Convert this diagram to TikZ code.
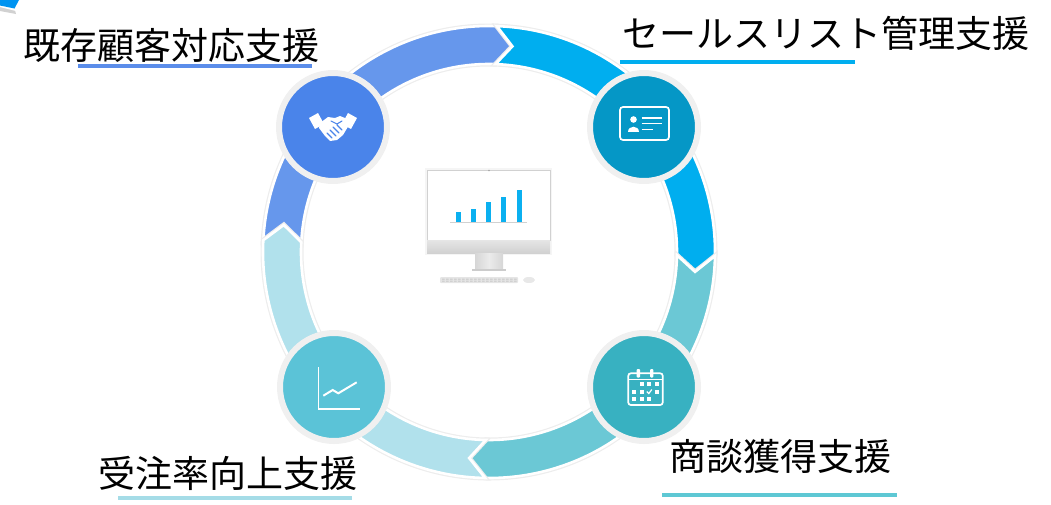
\documentclass[tikz,border=0pt]{standalone}
\usepackage{fontspec}
\newfontfamily\jpfont{Noto Sans CJK JP}
\usetikzlibrary{calc}

% segment and hub colours
\definecolor{segA}{HTML}{6697EC}
\definecolor{hubA}{HTML}{4A84EA}
\definecolor{segB}{HTML}{00AEEF}
\definecolor{hubB}{HTML}{0597C6}
\definecolor{segC}{HTML}{6BC8D5}
\definecolor{hubC}{HTML}{38B1C1}
\definecolor{segD}{HTML}{B1E1EC}
\definecolor{hubD}{HTML}{5BC3D7}
\definecolor{ulA}{HTML}{5B8DEA}
\definecolor{ulB}{HTML}{00AEEF}
\definecolor{ulC}{HTML}{5EC8D4}
\definecolor{ulD}{HTML}{A5DCE7}
\definecolor{barc}{HTML}{0BB0F0}

% ring geometry
\def\Ro{226pt}
\def\Ri{188pt}
\def\Rm{207pt}
\def\dd{4.5}

% one arrow segment of the ring: start angle, end angle, colour
\newcommand\ringseg[3]{%
  \path[halo] ($(C)+(#1:\Ro)$) arc[start angle=#1, end angle=#2, radius=\Ro]
    -- ($(C)+({#2-\dd}:\Rm)$) -- ($(C)+(#2:\Ri)$)
    arc[start angle=#2, end angle=#1, radius=\Ri]
    -- ($(C)+({#1-\dd}:\Rm)$) -- cycle;
  \path[segment=#3] ($(C)+(#1:\Ro)$) arc[start angle=#1, end angle=#2, radius=\Ro]
    -- ($(C)+({#2-\dd}:\Rm)$) -- ($(C)+(#2:\Ri)$)
    arc[start angle=#2, end angle=#1, radius=\Ri]
    -- ($(C)+({#1-\dd}:\Rm)$) -- cycle;}

\begin{document}
\begin{tikzpicture}[x=1pt,y=-1pt,
  halo/.style={draw=black!7, line width=5pt, line join=miter},
  segment/.style={fill=#1, draw=white, line width=2.6pt, line join=miter},
  hub/.style={circle, fill=#1, draw=black!6, line width=6pt, minimum size=108pt, inner sep=0pt},
  label/.style={font=\jpfont\fontsize{37}{40}\selectfont, inner sep=0pt, anchor=base west},
  uline/.style={line width=4pt},
  icon/.style={draw=white, line width=1.7pt},
  bar/.style={fill=barc}]
\useasboundingbox (0,0) rectangle (1051,504);

% corner of a tile that runs off the top left
\fill[black!18] (0,6) -- (15,10) -- (16,14) -- (0,11) -- cycle;
\fill[white] (0,5) -- (15,9) -- (20,0) -- (22,0) -- (16,11) -- (0,7) -- cycle;
\fill[segB!85!blue] (0,0) -- (19,0) -- (14.5,8.5) -- (0,5.5) -- cycle;

% the ring of four arrows
\coordinate (C) at (489,252);
\ringseg{177}{88}{segA}
\ringseg{88}{-1}{segB}
\ringseg{-1}{-91}{segC}
\ringseg{-91}{-183}{segD}

% hubs on the ring
\node[hub=hubA] (hA) at (333,127) {};
\node[hub=hubB] (hB) at (644,127) {};
\node[hub=hubC] (hC) at (644,387) {};
\node[hub=hubD] (hD) at (334,387) {};

% handshake
\fill[white] (309,118) -- (318,113) -- (324,124) -- (315,129) -- cycle;
\fill[white] (357,118) -- (348,113) -- (342,124) -- (351,129) -- cycle;
\fill[white] (320,123) -- (328,117) -- (335,118) -- (340,116) -- (345,118) -- (349,125)
  -- (343,135) -- (337,140) -- (330,141) -- (325,136) -- (319,128) -- cycle;
\draw[hubA, line width=1.1pt, line cap=round]
  (327,133) -- (332,138) (330,130) -- (336,136) (333,127) -- (339,133) (337,125) -- (342,130)
  (331,121) -- (337,124) -- (342,121);

% contact card
\draw[icon, rounded corners=3pt] (620,107) rectangle (669,140);
\fill[white] (633.5,119.5) circle (3.3pt);
\fill[white] (628,132) .. controls (628,124.5) and (639,124.5) .. (639,132) -- cycle;
\draw[white, line width=1.6pt] (641.5,117.7) -- (661.7,117.7) (641.5,123.3) -- (661.7,123.3)
  (641.5,129.3) -- (652.7,129.3);

% calendar
\draw[icon, rounded corners=2.5pt] (628.3,373.3) rectangle (662.7,405);
\draw[white, line width=1.4pt] (628.3,379.5) -- (662.7,379.5);
\fill[white, rounded corners=1pt] (636.6,369) rectangle (640,377.5) (650,369) rectangle (653.4,377.5);
\foreach \cx/\cy in {641.7/384, 649.3/384, 656.7/384,
                     634.3/391.7, 641.7/391.7, 656.7/391.7,
                     634.3/399.3, 641.7/399.3, 649.3/399.3}
  \fill[white] (\cx-2,\cy-2) rectangle (\cx+2,\cy+2);
\draw[white, line width=1.2pt] (646.8,391.5) -- (648.8,393.5) -- (651.8,389.5);

% line chart
\draw[icon, line width=1.6pt] (318.3,367.3) -- (318.3,409) -- (360,409);
\draw[white, line width=2pt, line join=miter] (323.3,395.7) -- (332.7,390) -- (338.3,393.3) -- (356.7,382.3);

% monitor in the middle
\fill[black!4] (425,168) rectangle (552,255);
\draw[black!18, line width=0.8pt, fill=white] (427,170) rectangle (550,240);
\shade[top color=black!10, bottom color=black!18] (427,240) rectangle (550,253);
\shade[left color=black!16, right color=black!16, middle color=black!8] (475,253) rectangle (503,270);
\fill[black!20] (472,268.5) rectangle (506,271);
\fill[black!10, rounded corners=1pt] (440,277) rectangle (518,283);
\foreach \kx in {442,446,...,514}
  \fill[black!18] (\kx,278.5) rectangle (\kx+2.6,279.8) (\kx,280.5) rectangle (\kx+2.6,281.8);
\fill[black!9] (529,280) ellipse (6pt and 3pt);
\fill[black!35] (489,170.5) circle (0.8pt);
\draw[black!18, line width=1.5pt] (450,222.5) -- (527,222.5);
\fill[bar] (456,212) rectangle (461,221.5);
\fill[bar] (471,208.5) rectangle (476,221.5);
\fill[bar] (486,201.5) rectangle (491,221.5);
\fill[bar] (501,197) rectangle (506,221.5);
\fill[bar] (516.5,190) rectangle (521.5,221.5);

% labels and their underlines
\node[label] (tA) at (23,59) {既存顧客対応支援};
\draw[uline, ulA] (78,66) -- (312,66);
\node[label] (tB) at (622,47) {セールスリスト管理支援};
\draw[uline, ulB] (620,62) -- (855,62);
\node[label] (tD) at (98,487) {受注率向上支援};
\draw[uline, ulD] (118,498) -- (352,498);
\node[label] (tC) at (669,470) {商談獲得支援};
\draw[uline, ulC] (662,495) -- (897,495);
\end{tikzpicture}
\end{document}
